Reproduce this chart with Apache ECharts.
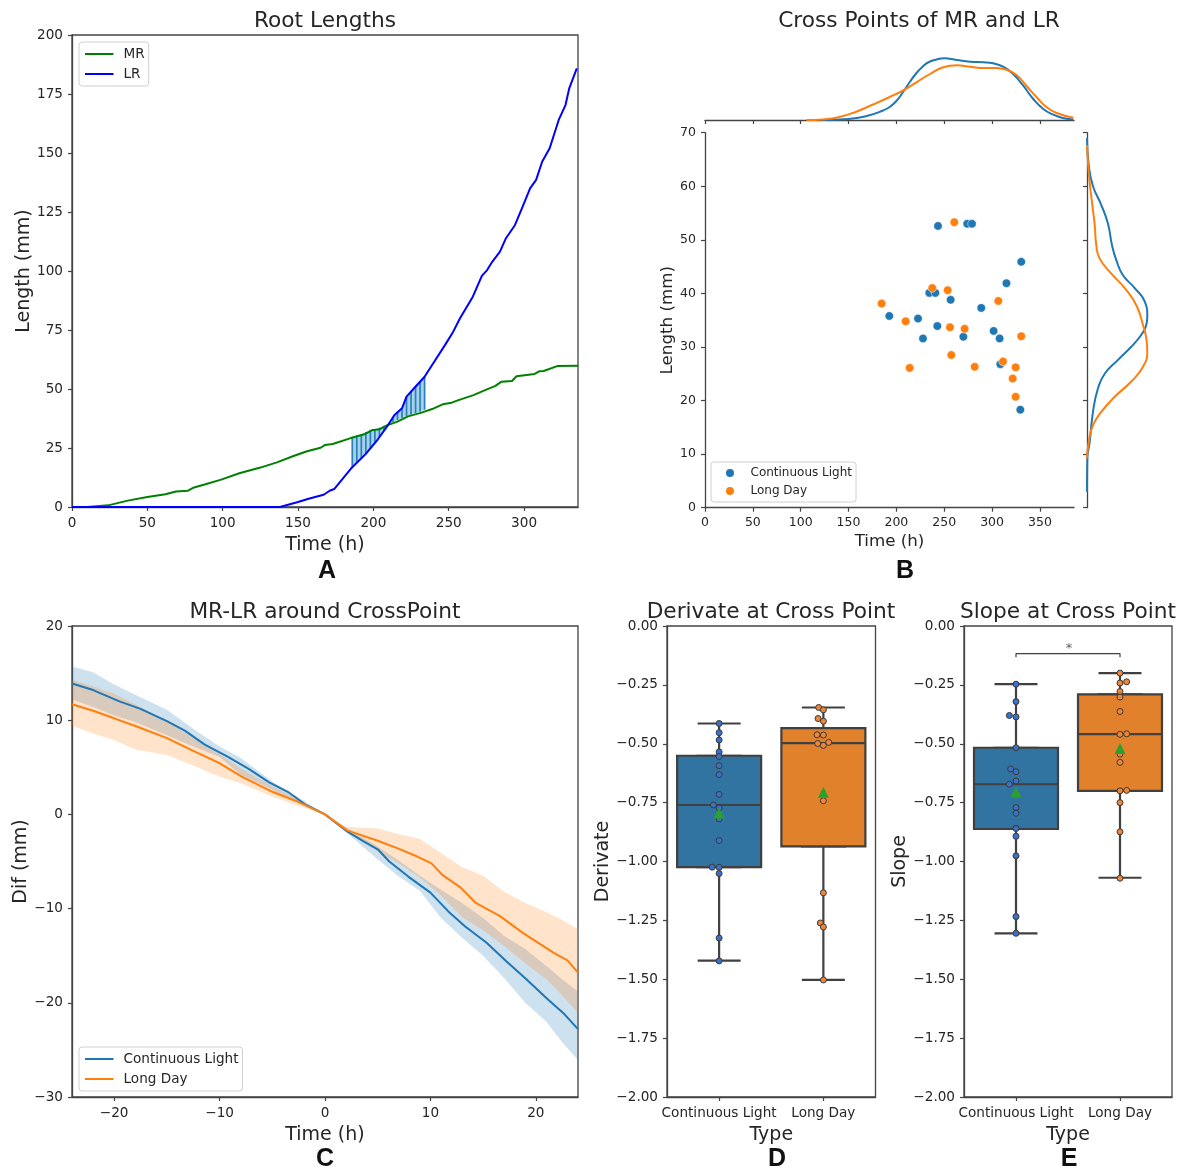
<!DOCTYPE html>
<html>
<head>
<meta charset="utf-8">
<style>html,body{margin:0;padding:0;background:#fff}#c{width:1182px;height:1171px}</style>
<script src="https://cdn.jsdelivr.net/npm/echarts@6/dist/echarts.min.js"></script>
</head>
<body>
<div id="c"></div>
<script>
// ---------- Panel A: root lengths ----------
const mrHours = [0,10,24,37,50,62,69,77,81,88,99,111,125,136,147,156,165,168,173,185,194,199,204,209,216,223,232,239,246,252,256,266,273,281,285,292,295,307,310,313,322,336];
const mrLength = [0,0,0.7,2.7,4.2,5.4,6.6,6.9,8.3,9.5,11.6,14.3,16.7,18.9,21.6,23.6,25.1,26.3,26.7,29.2,30.8,32.5,32.9,34.6,36.2,38.4,40,41.5,43.5,44.2,45.2,47.3,49.2,51.3,53.1,53.4,55.4,56.4,57.5,57.6,59.7,59.8];
const lrHours = [0,138,150,157,167,171,174,185,195,203,209,214,219,222,227,234,237.6,247.5,253,257.5,266,272,275.5,279,284,288,294,299,304,308,312,317,323,327.5,330,335];
const lrLength = [0,0,2.1,3.5,5.2,6.9,7.6,16.2,22.5,28.7,34,39,41.8,46.8,50.3,55.2,58.8,68.6,74.3,80,89.1,97.9,100.4,104,108.2,113.9,119.5,127.2,135,138.6,146.3,152,164,170.3,177.4,185.9];
const hatchHours = [186,189,192,195,198,201,204,207,210,213,216,219,222,225,228,231,234];
const hatchMR = [29.4,30.2,30.9,31.8,32.7,32.9,33.6,34.4,35.2,36,36.8,37.7,38.6,39.2,39.8,40.4,41.2];
const hatchLR = [16.9,18.8,20.7,22.5,25,27.2,29.6,32.2,35,38,40.3,42,46.8,48.9,51,53.1,55.2];

// ---------- Panel B: cross points and marginal densities ----------
const clTime = [243.5,274,279,330.5,315,234.4,240.7,256.7,288.7,192.6,222.6,242.8,301.6,227.8,270,307.9,308.6,329.5];
const clLen = [52.6,53,53,45.9,41.9,40.1,40.1,38.8,37.3,35.8,35.3,33.9,33,31.6,31.9,31.6,26.8,18.3];
const ldTime = [260.5,237.5,253.6,306.5,184.6,209.7,256,271.3,330.5,257.4,281.8,213.9,311.4,324.6,321.5,324.6];
const ldLen = [53.3,41,40.6,38.6,38.1,34.8,33.7,33.4,32,28.5,26.3,26.1,27.3,26.2,24.1,20.7];
const topClT = [123,150,169,186,193,200,207,214,221,227,233,242,250,263,277,291,301,311.6,322,332.6,343,353.5,364,374,385];
const topClD = [0.1,1,4,9.5,13,19,28,38,47,53,57.5,60.5,61.7,60,58.3,57.7,56.7,53.3,46,34.3,21,11,5.3,2,0.4];
const topLdT = [106,123,140.6,158,175.6,193,207,221,235,249,263,277,291,304.7,315,325.6,336,346.6,357,367.4,385];
const topLdD = [0,0.6,3,8.3,15.5,23,29.5,37.7,46,52.7,54.7,53.3,52,52,50.3,45,34,22.7,12.7,7,2.3];
const rightClL = [3,9.2,12.3,17.9,22.3,25,27.6,30,32.2,34.1,35.7,38.5,41,43.4,46.2,49,53,56.5,60,64,69];
const rightClD = [0,0.3,2.7,6,11,17.7,31,44,54,59.3,60.3,57.7,47.7,36,29.3,25,21,14.3,6,1.7,0];
const rightLdL = [9.2,12.3,15.4,17.9,20.7,23.5,26.3,29.1,31.6,34.1,37.8,41,43.7,46.5,49,52.8,57,62,67.7];
const rightLdD = [0,1.7,6,14.3,27.7,44,56,60.3,59.3,56,49.3,37.7,24.3,12.7,9.3,7.7,5,2,0];

// ---------- Panel C: MR-LR around the cross point ----------
const difClH = [-24,-22,-19.5,-17.5,-15,-13.3,-11.4,-9.2,-7.2,-5.3,-3.4,-1.8,0,2.1,3.7,5,6.1,7.9,10,11.7,13.3,15.3,17.2,19.1,21.1,22.7,24];
const difCl = [13.9,13.2,12,11.2,9.9,8.9,7.4,6.1,4.8,3.4,2.3,1,0,-1.8,-2.9,-3.7,-5,-6.6,-8.3,-10.3,-11.9,-13.6,-15.6,-17.5,-19.6,-21.2,-22.8];
const difLdH = [-24,-22,-20,-17.8,-15,-12.4,-10.1,-7.9,-5,-2.7,0,2.1,5,6.9,8.8,10.1,11.1,12.9,14.3,16.6,18.8,21.7,23,24];
const difLd = [11.7,11,10.2,9.3,8.1,6.7,5.5,4,2.4,1.4,0,-1.7,-2.8,-3.6,-4.5,-5.2,-6.4,-7.8,-9.4,-10.8,-12.6,-14.7,-15.5,-16.8];
const bandH = [-24,-22,-20,-18,-15,-12.5,-10,-8,-5,-2.5,0,2,5,7,9,11,13,15,17,19,21,22.5,24];
const bandClHigh = [15.7,15.1,13.8,12.7,11.1,9.1,7.2,6,3.5,1.8,0,-1.4,-3.4,-4.9,-6.5,-8,-9.4,-11,-12.9,-14.3,-16.1,-17.5,-18.8];
const bandClLow = [12.2,11.4,10.5,9.8,8.4,7.2,6.1,4.2,2.6,1.3,0,-1.9,-4.8,-6.6,-8.1,-11,-13.1,-15,-17.4,-20,-22,-24.2,-26.1];
const bandLdHigh = [14.3,13.6,12.8,11.7,9.9,8.1,6.4,4.9,3,1.6,0,-1.3,-1.5,-2.1,-2.6,-4.1,-5.6,-6.5,-8.2,-9.4,-10.4,-11.2,-12.2];
const bandLdLow = [9.4,8.6,7.9,6.9,6.3,5.2,4,3.3,1.9,0.9,0,-1.8,-3.9,-5.2,-6.7,-8.6,-10.9,-12.3,-14,-15.8,-17.5,-19.2,-21.1];

// ---------- Panels D, E: box plots ----------
const types = ['Continuous Light','Long Day'];
const derivBoxes = [[-1.421,-1.024,-0.76,-0.551,-0.414],[-1.503,-0.936,-0.497,-0.434,-0.346]];
const slopeBoxes = [[-1.305,-0.862,-0.672,-0.517,-0.247],[-1.069,-0.70,-0.459,-0.29,-0.2]];
const derivMeans = [-0.794,-0.706];
const slopeMeans = [-0.705,-0.52];
const derivClX = [0,0,0,0,0,0,0,0,-0.055,0,0,0,-0.067,0,0,0,0];
const derivClY = [-0.414,-0.453,-0.484,-0.535,-0.554,-0.593,-0.631,-0.715,-0.76,-0.773,-0.819,-0.911,-1.024,-1.025,-1.051,-1.325,-1.422];
const derivLdX = [0.955,1,0.949,1,0.939,1,0.946,1.051,1,1,1,0.971,1,1];
const derivLdY = [-0.346,-0.356,-0.393,-0.404,-0.462,-0.463,-0.499,-0.494,-0.507,-0.742,-1.133,-1.261,-1.278,-1.503];
const slopeClX = [0,0,-0.064,0,0,-0.051,0,0,-0.064,0,0,0,0,0,0,0];
const slopeClY = [-0.247,-0.321,-0.38,-0.386,-0.517,-0.607,-0.619,-0.658,-0.672,-0.771,-0.795,-0.86,-0.893,-0.976,-1.234,-1.305];
const slopeLdX = [1,1,1.064,1,1,1,1,1.064,1,1,1,1.064,1,1,1];
const slopeLdY = [-0.2,-0.242,-0.237,-0.278,-0.302,-0.363,-0.46,-0.458,-0.544,-0.579,-0.70,-0.698,-0.75,-0.874,-1.071];
const sigBracketX = [0,0,1,1];
const sigBracketY = [-0.133,-0.117,-0.117,-0.133];

// ---------- Tick values ----------
const ticksA = [0,50,100,150,200,250,300];
const ticksB = [0,50,100,150,200,250,300,350];
const ticksC = [-20,-10,0,10,20];

const BLUE = '#1f77b4', ORANGE = '#ff7f0e', INK = '#262626', SPINE = '#444';
const FONT = '"DejaVu Sans"';
const zip = (a, b) => a.map((v, i) => [v, b[i]]);
const minus = s => String(s).replace('-', '\u2212');
const fmt2 = v => minus(v.toFixed(2));

const grids = [
  {left:72,  top:35,    width:506,   height:472, show:true, borderColor:SPINE, borderWidth:1.3},
  {left:705, top:50,    width:369,   height:70},
  {left:705, top:132.7, width:369,   height:375},
  {left:1087,top:132.7, width:70,    height:375},
  {left:72,  top:626,   width:506,   height:471, show:true, borderColor:SPINE, borderWidth:1.3},
  {left:667, top:626,   width:208.5, height:471, show:true, borderColor:SPINE, borderWidth:1.3},
  {left:964, top:626,   width:208,   height:471, show:true, borderColor:SPINE, borderWidth:1.3}
];

const LABEL = {color:INK, fontSize:13.6, fontFamily:FONT, margin:9};
const LABEL_B = {color:INK, fontSize:12.5, fontFamily:FONT, margin:9};
const NAME = {color:INK, fontSize:19, fontFamily:FONT};
const NAME_B = {color:INK, fontSize:16.7, fontFamily:FONT};

function valAxis(gridIndex, o) {
  return Object.assign({
    type:'value', gridIndex, splitLine:{show:false},
    axisLine:{show:true, onZero:false, lineStyle:{color:SPINE, width:1.3}},
    axisTick:{show:true, length:4, lineStyle:{color:SPINE, width:1.2}},
    axisLabel:Object.assign({}, LABEL, {formatter:v=>minus(v)}),
    nameLocation:'middle', nameTextStyle:NAME
  }, o);
}
function hiddenVal(gridIndex, min, max) {
  return {type:'value', gridIndex, min, max, show:false, splitLine:{show:false}, axisLine:{onZero:false}};
}
function customTicks(gridIndex, values, o) {
  const ax = valAxis(gridIndex, o);
  ax.axisTick.customValues = values;
  ax.axisLabel.customValues = values;
  return ax;
}
function catAxis(gridIndex, name) {
  return {
    type:'category', gridIndex, data:types, name, nameLocation:'middle', nameGap:29,
    nameTextStyle:NAME,
    axisLine:{show:true, onZero:false, lineStyle:{color:SPINE, width:1.3}},
    axisTick:{show:true, alignWithLabel:true, length:4, lineStyle:{color:SPINE, width:1.2}},
    axisLabel:Object.assign({}, LABEL, {interval:0}),
    splitLine:{show:false}
  };
}
const hiddenCat = gridIndex => ({type:'category', gridIndex, data:types, show:false, axisLine:{onZero:false}});

const xAxes = [
  customTicks(0, ticksA, {min:0, max:335.8, name:'Time (h)', nameGap:28.5}),
  (()=>{const a = customTicks(1, ticksB, {min:0, max:385.6}); a.axisLabel.show=false; return a;})(),
  customTicks(2, ticksB, {min:0, max:385.6, name:'Time (h)', nameGap:25, nameTextStyle:NAME_B, axisLabel:Object.assign({},LABEL_B,{customValues:ticksB})}),
  hiddenVal(3, 0, 70),
  customTicks(4, ticksC, {min:-24, max:24, name:'Time (h)', nameGap:28.5}),
  catAxis(5,'Type'), hiddenCat(5), hiddenVal(5,-0.5,1.5),
  catAxis(6,'Type'), hiddenCat(6), hiddenVal(6,-0.5,1.5)
];
const yAxes = [
  valAxis(0,{min:0,max:200,interval:25,name:'Length (mm)',nameGap:38}),
  hiddenVal(1,0,70),
  valAxis(2,{min:0,max:70,interval:10,name:'Length (mm)',nameGap:25,nameTextStyle:NAME_B,axisLabel:LABEL_B}),
  (()=>{const a = valAxis(3,{min:0,max:70,interval:10}); a.axisLabel.show=false; return a;})(),
  valAxis(4,{min:-30,max:20,interval:10,name:'Dif (mm)',nameGap:39}),
  valAxis(5,{min:-2,max:0,interval:0.25,name:'Derivate',nameGap:52,axisLabel:Object.assign({},LABEL,{formatter:fmt2})}),
  valAxis(6,{min:-2,max:0,interval:0.25,name:'Slope',nameGap:52,axisLabel:Object.assign({},LABEL,{formatter:fmt2})})
];

const line = (name,xi,yi,data,color,o) => Object.assign({
  name, type:'line', xAxisIndex:xi, yAxisIndex:yi, data, symbol:'none', silent:true,
  lineStyle:{color, width:2}, itemStyle:{color}, z:3
}, o);

function band(name, xi, yi, xs, low, high, color) {
  return {
    name, type:'custom', xAxisIndex:xi, yAxisIndex:yi, silent:true, z:2, clip:true,
    data:xs.map((x,i)=>[x,low[i],high[i]]), encode:{x:0,y:[1,2]},
    renderItem(params, api){
      if (params.dataIndex !== 0) return;
      const up = xs.map((x,i)=>api.coord([x,high[i]]));
      const dn = xs.map((x,i)=>api.coord([x,low[i]])).reverse();
      return {type:'polygon', shape:{points:up.concat(dn)}, style:{fill:color, opacity:0.22}};
    }
  };
}

function boxLayers(id, xCat, xHidden, yi, boxes) {
  const colors = ['#3274a1','#e1812c'];
  const style = i => ({color:colors[i], borderColor:'#404040', borderWidth:2.2});
  return [
    {name:id+' whiskers', type:'boxplot', xAxisIndex:xHidden, yAxisIndex:yi, boxWidth:[43,43], silent:true, z:2,
     data:boxes.map((b,i)=>({value:b, itemStyle:style(i)}))},
    {name:id+' boxes', type:'boxplot', xAxisIndex:xCat, yAxisIndex:yi, boxWidth:[84,84], silent:true, z:3,
     data:boxes.map((b,i)=>({value:[b[1],b[1],b[2],b[3],b[3]], itemStyle:style(i)}))}
  ];
}
function dots(name, xi, yi, xs, ys, color) {
  return {name, type:'scatter', xAxisIndex:xi, yAxisIndex:yi, data:zip(xs,ys), symbolSize:6, silent:true, z:4,
    itemStyle:{color, borderColor:'#3a3a3a', borderWidth:1, opacity:1}};
}
function means(name, xi, yi, vals) {
  return {name, type:'scatter', xAxisIndex:xi, yAxisIndex:yi, data:vals.map((v,i)=>[i,v]), symbol:'triangle', symbolSize:11, silent:true, z:5,
    itemStyle:{color:'#2ca02c', opacity:1}};
}
const DOT_BLUE = '#3a70c8', DOT_ORANGE = '#ee8538';

const series = [
  // A
  {name:'hatch', type:'custom', xAxisIndex:0, yAxisIndex:0, silent:true, z:1,
   data:hatchHours.map((h,i)=>[h,hatchMR[i],hatchLR[i]]), encode:{x:0,y:[1,2]},
   renderItem(params, api){
     const i = params.dataIndex, h = api.value(0);
     const a = api.coord([h, api.value(1)]), b = api.coord([h, api.value(2)]);
     const children = [];
     if (i < hatchHours.length-1) {
       const c = api.coord([hatchHours[i+1], hatchLR[i+1]]), d = api.coord([hatchHours[i+1], hatchMR[i+1]]);
       children.push({type:'polygon', shape:{points:[a,b,c,d]}, style:{fill:'#a6d2ec'}});
     }
     children.push({type:'line', shape:{x1:a[0],y1:a[1],x2:b[0],y2:b[1]}, style:{stroke:'#2a80b8', lineWidth:1.7}});
     return {type:'group', children};
   }},
  line('MR',0,0,zip(mrHours,mrLength),'#008000'),
  line('LR',0,0,zip(lrHours,lrLength),'#0000ff'),
  // B
  {name:'Continuous Light', type:'scatter', xAxisIndex:2, yAxisIndex:2, data:zip(clTime,clLen), symbolSize:8.5, silent:true, z:3,
   itemStyle:{color:BLUE, borderColor:'#fff', borderWidth:0.5, opacity:1}},
  {name:'Long Day', type:'scatter', xAxisIndex:2, yAxisIndex:2, data:zip(ldTime,ldLen), symbolSize:8.5, silent:true, z:4,
   itemStyle:{color:ORANGE, borderColor:'#fff', borderWidth:0.5, opacity:1}},
  line('CL top density',1,1,zip(topClT,topClD),BLUE,{smooth:0.5}),
  line('LD top density',1,1,zip(topLdT,topLdD),ORANGE,{smooth:0.5,z:4}),
  line('CL right density',3,3,zip(rightClD,rightClL),BLUE,{smooth:0.5}),
  line('LD right density',3,3,zip(rightLdD,rightLdL),ORANGE,{smooth:0.5,z:4}),
  // C
  band('CL band',4,4,bandH,bandClLow,bandClHigh,BLUE),
  band('LD band',4,4,bandH,bandLdLow,bandLdHigh,ORANGE),
  line('Continuous Light|C',4,4,zip(difClH,difCl),BLUE),
  line('Long Day|C',4,4,zip(difLdH,difLd),ORANGE,{z:4}),
  // D
  ...boxLayers('Derivate',5,6,5,derivBoxes),
  dots('Derivate CL',7,5,derivClX,derivClY,DOT_BLUE),
  dots('Derivate LD',7,5,derivLdX,derivLdY,DOT_ORANGE),
  means('Derivate mean',7,5,derivMeans),
  // E
  ...boxLayers('Slope',8,9,6,slopeBoxes),
  dots('Slope CL',10,6,slopeClX,slopeClY,DOT_BLUE),
  dots('Slope LD',10,6,slopeLdX,slopeLdY,DOT_ORANGE),
  means('Slope mean',10,6,slopeMeans),
  line('significance',10,6,zip(sigBracketX,sigBracketY),'#404040',{lineStyle:{color:'#404040',width:1.2},z:5}),
  {name:'star', type:'scatter', xAxisIndex:10, yAxisIndex:6, data:[[0.51,-0.096]], symbolSize:2, silent:true, z:5,
   itemStyle:{color:'rgba(0,0,0,0)'}, label:{show:true, position:'inside', formatter:'*', color:'#333', fontSize:13, fontFamily:FONT}}
];

const titleT = (text,x,y) => ({text, left:x, top:y, textAlign:'center', padding:0,
  textStyle:{color:INK, fontSize:21.7, fontWeight:'normal', fontFamily:FONT}});
const letter = (text,x,y) => ({text, left:x, top:y, textAlign:'center', padding:0,
  textStyle:{color:'#111', fontSize:25, fontWeight:'bold', fontFamily:'"Liberation Sans"'}});

const legendBase = {
  orient:'vertical', selectedMode:false, borderColor:'#d0d0d0', borderWidth:1, borderRadius:3,
  backgroundColor:'rgba(255,255,255,0.8)', padding:[5,4,5,5], itemGap:6, itemHeight:14, itemWidth:28.5,
  itemStyle:{opacity:0},
  formatter:n=>n.split('|')[0], textStyle:{color:INK, fontSize:13.6, fontFamily:FONT, padding:[0,0,0,5]}
};

const option = {
  animation:false, backgroundColor:'#fff', textStyle:{fontFamily:FONT},
  title:[
    titleT('Root Lengths',325,10),
    titleT('Cross Points of MR and LR',919,10),
    titleT('MR-LR around CrossPoint',325,601),
    titleT('Derivate at Cross Point',771,601),
    titleT('Slope at Cross Point',1068,601),
    letter('A',327,559), letter('B',905,559), letter('C',325,1147), letter('D',777,1147), letter('E',1069,1147)
  ],
  legend:[
    Object.assign({},legendBase,{left:79,top:42,data:['MR','LR']}),
    Object.assign({},legendBase,{left:711,top:462,itemWidth:21,itemHeight:10,itemGap:6,padding:[5,4,5,13],
      itemStyle:{opacity:1},
      textStyle:{color:INK,fontSize:12,fontFamily:FONT,padding:[0,0,0,5]},
      data:[{name:'Continuous Light',icon:'circle'},{name:'Long Day',icon:'circle'}]}),
    Object.assign({},legendBase,{left:79,top:1047,data:['Continuous Light|C','Long Day|C']})
  ],
  grid:grids, xAxis:xAxes, yAxis:yAxes, series
};
const chart = echarts.init(document.getElementById('c'), null, {renderer:'canvas'});
chart.setOption(option);
</script>
</body>
</html>
